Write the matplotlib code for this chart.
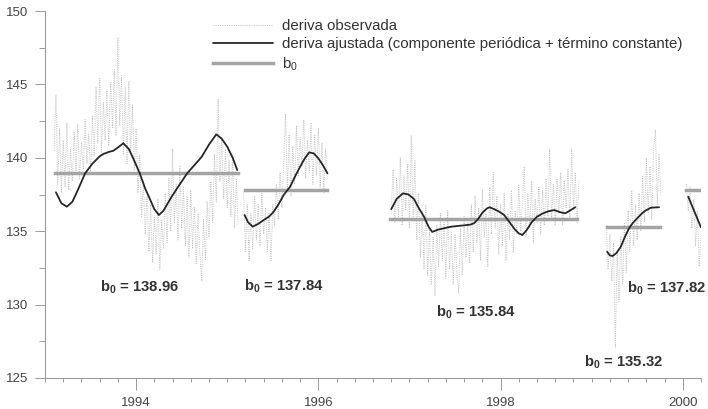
import matplotlib
matplotlib.use("Agg")
import matplotlib.pyplot as plt
import numpy as np
from matplotlib.ticker import MultipleLocator

plt.rcParams['font.family'] = ['Liberation Sans', 'DejaVu Sans']
plt.rcParams['mathtext.fontset'] = 'custom'
plt.rcParams['mathtext.rm'] = 'Liberation Sans'
plt.rcParams['mathtext.bf'] = 'Liberation Sans:bold'
plt.rcParams['mathtext.it'] = 'Liberation Sans:italic'

# deriva observada (cada tramo: año inicial, año final, valores)
obs1_span = (1993.10, 1995.12)
obs1 = [140.5, 144.3, 138.2, 142.0, 137.6, 141.2, 138.0, 142.4, 137.8, 140.6,
        138.4, 141.8, 139.0, 142.3, 138.6, 141.0, 139.2, 142.6, 139.6, 141.6,
        139.0, 142.8, 140.2, 144.8, 141.0, 145.4, 140.4, 143.8, 141.2, 144.6,
        140.8, 145.2, 142.0, 146.0, 141.5, 148.2, 142.2, 145.6, 140.2, 144.8,
        139.6, 145.2, 140.4, 143.6, 139.2, 142.0, 137.6, 140.2, 136.0, 138.4,
        134.8, 137.4, 133.6, 136.8, 132.9, 136.0, 133.4, 137.2, 132.4, 135.8,
        133.8, 137.6, 134.2, 138.6, 135.0, 140.6, 135.6, 138.2, 134.4, 139.4,
        135.2, 138.0, 134.0, 137.4, 133.2, 137.8, 133.8, 136.6, 132.8, 136.2,
        133.4, 131.6, 135.8, 133.0, 137.0, 134.6, 138.4, 135.6, 140.2, 137.0,
        144.0, 138.4, 141.4, 137.2, 140.6, 136.6, 139.8, 136.0, 140.2, 135.2,
        138.6, 135.4]
obs2_span = (1995.18, 1996.10)
obs2 = [137.6, 133.6, 136.8, 133.0, 136.2, 133.8, 137.4, 134.4, 136.8, 134.0,
        137.6, 134.8, 136.6, 133.6, 136.2, 133.0, 136.8, 135.4, 138.2, 135.8,
        139.0, 136.6, 139.6, 143.0, 137.8, 141.6, 137.4, 140.8, 138.2, 142.2,
        138.8, 141.4, 139.4, 142.6, 138.6, 141.2, 139.0, 142.4, 138.2, 141.6,
        138.8, 142.0, 138.0, 141.0, 137.6, 140.6, 138.6]
obs3_span = (1996.80, 1998.86)
obs3 = [136.2, 139.2, 135.6, 138.6, 136.0, 140.0, 135.4, 138.8, 136.4, 139.6,
        135.2, 141.5, 136.0, 139.8, 134.4, 137.6, 133.2, 136.4, 132.4, 136.8,
        132.0, 135.2, 131.4, 134.6, 130.6, 135.4, 132.6, 136.2, 133.0, 135.6,
        131.8, 136.4, 132.4, 135.0, 131.4, 134.8, 132.2, 130.8, 135.2, 132.0,
        136.0, 133.2, 135.6, 132.8, 136.8, 133.6, 137.4, 134.2, 136.6, 133.0,
        137.8, 134.6, 136.2, 132.6, 138.0, 134.8, 139.0, 135.2, 137.4, 133.4,
        136.8, 134.0, 137.6, 133.0, 136.2, 134.4, 137.8, 133.6, 136.4, 134.8,
        138.2, 135.0, 137.0, 139.4, 134.6, 137.6, 135.2, 138.4, 134.2, 137.2,
        135.6, 138.0, 134.8, 137.8, 135.4, 138.6, 136.0, 140.6, 135.8, 138.2,
        135.4, 138.6, 136.2, 139.0, 135.4, 138.4, 136.6, 139.2, 135.8, 140.6,
        136.4, 139.0, 135.6, 138.4]
obs4_span = (1999.16, 1999.76)
obs4 = [135.4, 132.4, 134.8, 131.6, 134.2, 127.1, 133.6, 130.2, 134.6, 131.4,
        135.6, 132.2, 136.4, 133.6, 137.8, 134.0, 136.8, 134.4, 137.6, 135.0,
        138.8, 135.6, 140.0, 136.2, 139.4, 135.8, 140.6, 141.9, 136.8, 140.2,
        137.4]
obs5_span = (2000.04, 2000.20)
obs5 = [138.2, 136.4, 138.0, 135.2, 137.2, 134.0, 136.4, 132.6, 134.8]

# deriva ajustada
fit1_x = [1993.12, 1993.18, 1993.24, 1993.30, 1993.36, 1993.44, 1993.52, 1993.60,
          1993.64, 1993.70, 1993.75, 1993.80, 1993.86, 1993.92, 1993.98, 1994.04,
          1994.10, 1994.14, 1994.20, 1994.25, 1994.30, 1994.39, 1994.48, 1994.56,
          1994.64, 1994.72, 1994.80, 1994.88, 1994.94, 1995.00, 1995.06, 1995.11]
fit1_y = [137.65, 136.9, 136.67, 137.0, 137.8, 138.94, 139.6, 140.1,
          140.26, 140.4, 140.48, 140.7, 140.99, 140.6, 139.8, 138.94,
          137.9, 137.35, 136.5, 136.10, 136.4, 137.35, 138.2, 138.94,
          139.5, 140.07, 140.9, 141.6, 141.3, 140.76, 140.0, 139.17]
fit2_x = [1995.19, 1995.23, 1995.28, 1995.34, 1995.40, 1995.46, 1995.51, 1995.56,
          1995.62, 1995.69, 1995.75, 1995.80, 1995.85, 1995.90, 1995.95, 1996.00,
          1996.05, 1996.10]
fit2_y = [136.1, 135.6, 135.31, 135.5, 135.76, 136.0, 136.33, 136.8,
          137.47, 138.03, 138.8, 139.39, 139.95, 140.37, 140.3, 139.96,
          139.5, 138.94]
fit3_x = [1996.80, 1996.86, 1996.93, 1996.99, 1997.05, 1997.10, 1997.16, 1997.21,
          1997.25, 1997.31, 1997.38, 1997.45, 1997.52, 1997.60, 1997.67, 1997.71,
          1997.75, 1997.80, 1997.85, 1997.88, 1997.93, 1997.98, 1998.04, 1998.10,
          1998.16, 1998.20, 1998.24, 1998.29, 1998.34, 1998.40, 1998.46, 1998.52,
          1998.59, 1998.65, 1998.71, 1998.76, 1998.82]
fit3_y = [136.5, 137.2, 137.58, 137.5, 137.19, 136.6, 135.99, 135.3,
          134.95, 135.1, 135.2, 135.3, 135.35, 135.4, 135.45, 135.55,
          135.8, 136.25, 136.55, 136.63, 136.5, 136.35, 136.1, 135.6,
          135.1, 134.85, 134.74, 135.1, 135.6, 135.99, 136.2, 136.35,
          136.44, 136.3, 136.22, 136.4, 136.63]
fit4_x = [1999.17, 1999.20, 1999.23, 1999.27, 1999.32, 1999.36, 1999.41, 1999.45,
          1999.50, 1999.55, 1999.59, 1999.65, 1999.70, 1999.74]
fit4_y = [133.6, 133.35, 133.31, 133.5, 133.94, 134.55, 135.2, 135.55,
          135.88, 136.2, 136.4, 136.6, 136.62, 136.63]
fit5_x = [2000.06, 2000.13, 2000.20]
fit5_y = [137.35, 136.3, 135.26]

# término constante b0 por tramo
b0_values = [138.96, 137.84, 135.84, 135.32, 137.82]
b0_start = [1993.11, 1995.19, 1996.79, 1999.17, 2000.04]
b0_end = [1995.12, 1996.10, 1998.84, 1999.75, 2000.20]
b0_label_x = [1994.04, 1995.62, 1997.73, 1999.35, 1999.82]
b0_label_y = [131.2, 131.25, 129.5, 126.1, 131.1]

obs = [(obs1_span, obs1), (obs2_span, obs2), (obs3_span, obs3),
       (obs4_span, obs4), (obs5_span, obs5)]
fits = [(fit1_x, fit1_y), (fit2_x, fit2_y), (fit3_x, fit3_y),
        (fit4_x, fit4_y), (fit5_x, fit5_y)]

fig = plt.figure(figsize=(7.08, 4.09), dpi=100)
ax = fig.add_axes([45 / 708, 31 / 409, 656 / 708, 367 / 409])

obs_color = '#c2c2c2'
b0_color = '#a4a4a4'
fit_color = '#262626'

for i, (span, vals) in enumerate(obs):
    x = np.linspace(span[0], span[1], len(vals))
    ax.plot(x, vals, color=obs_color, lw=0.7, linestyle=(0, (1, 1.3)),
            label='deriva observada' if i == 0 else None, zorder=1)

for i, (fx, fy) in enumerate(fits):
    ax.plot(fx, fy, color=fit_color, lw=1.3, solid_capstyle='round',
            label='deriva ajustada (componente periódica + término constante)' if i == 0 else None,
            zorder=3)

for i in range(len(b0_values)):
    ax.plot([b0_start[i], b0_end[i]], [b0_values[i], b0_values[i]], color=b0_color,
            lw=2.5, label=r'b$_{\mathrm{0}}$' if i == 0 else None, zorder=2)
    ax.text(b0_label_x[i], b0_label_y[i], r'$\mathbf{b_0}$ = %.2f' % b0_values[i],
            ha='center', va='center', fontsize=10.7, fontweight='bold', color='#333333')

handles, labels = ax.get_legend_handles_labels()
ax.legend(handles, labels, loc='upper left', bbox_to_anchor=(213 / 708, 1 - 19 / 409),
          bbox_transform=fig.transFigure, frameon=False, fontsize=10.8,
          handlelength=4.0, handletextpad=0.6, labelspacing=0.28,
          borderpad=0, borderaxespad=0, labelcolor='#333333')

ax.set_xlim(1993.0, 2000.2)
ax.set_ylim(125, 150)

ax.xaxis.set_major_locator(MultipleLocator(2))
ax.xaxis.set_minor_locator(MultipleLocator(0.2))
ax.yaxis.set_major_locator(MultipleLocator(5))
ax.yaxis.set_minor_locator(MultipleLocator(2.5))

for side in ['top', 'right']:
    ax.spines[side].set_visible(False)
for side in ['left', 'bottom']:
    ax.spines[side].set_color('#9a9a9a')
    ax.spines[side].set_linewidth(0.8)

ax.tick_params(axis='x', which='major', length=8.5, width=0.7, color='#9a9a9a',
               labelsize=9.5, labelcolor='#444444', pad=5)
ax.tick_params(axis='x', which='minor', length=3, width=0.7, color='#9a9a9a')
ax.tick_params(axis='y', which='major', length=7, width=0.7, color='#9a9a9a',
               labelsize=9.5, labelcolor='#444444', pad=5)
ax.tick_params(axis='y', which='minor', length=4, width=0.7, color='#9a9a9a')

fig.savefig('out.png', dpi=100)
